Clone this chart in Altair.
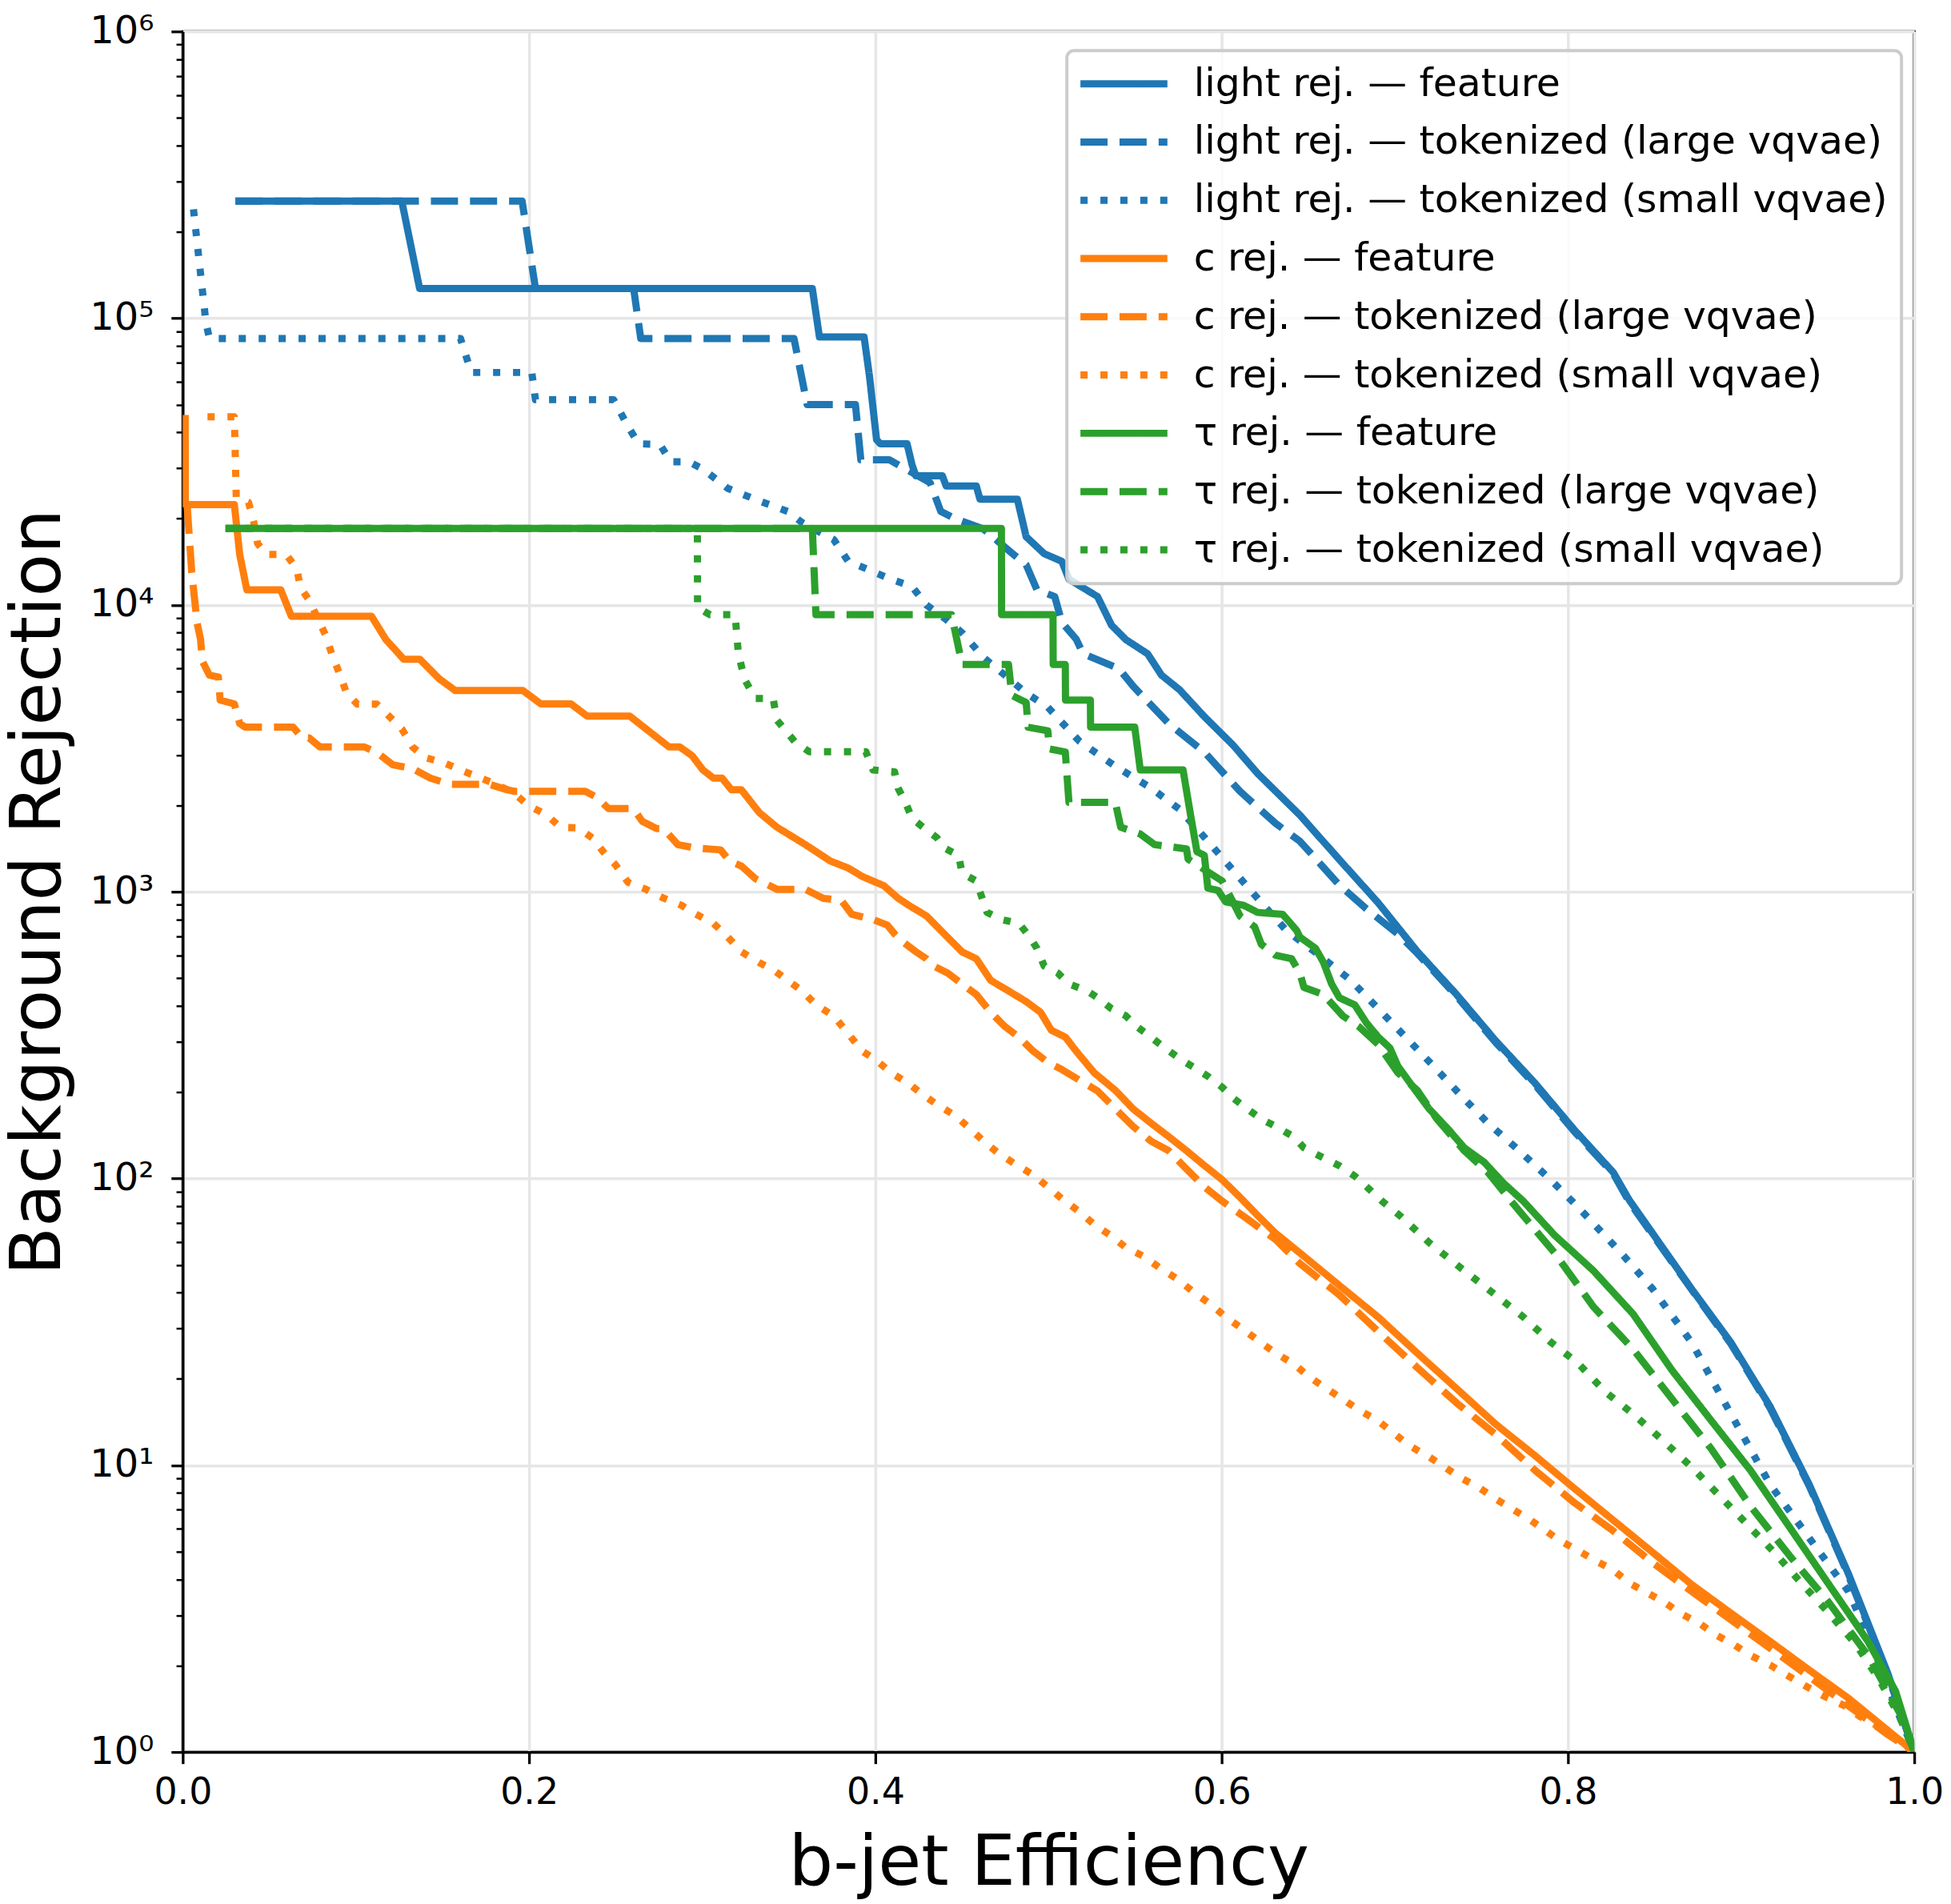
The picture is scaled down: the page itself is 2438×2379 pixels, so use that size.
import altair as alt
import pandas as pd

LABELS = [
    "light rej. — feature",
    "light rej. — tokenized (large vqvae)",
    "light rej. — tokenized (small vqvae)",
    "c rej. — feature",
    "c rej. — tokenized (large vqvae)",
    "c rej. — tokenized (small vqvae)",
    "τ rej. — feature",
    "τ rej. — tokenized (large vqvae)",
    "τ rej. — tokenized (small vqvae)",
]
COLORS = ["#1f77b4", "#1f77b4", "#1f77b4", "#ff7f0e", "#ff7f0e", "#ff7f0e",
          "#2ca02c", "#2ca02c", "#2ca02c"]
DASHES = [[1, 0], [34, 15], [9, 16]] * 3

light_feature = [
    [0.0304, 2.56e5], [0.1265, 2.56e5], [0.1368, 1.27e5], [0.3636, 1.27e5], [0.3677, 8.6e4],
    [0.3935, 8.6e4], [0.3966, 6.28e4], [0.4007, 3.77e4], [0.4028, 3.65e4], [0.4183, 3.65e4],
    [0.4212, 3.08e4], [0.4234, 2.82e4], [0.4387, 2.82e4], [0.4409, 2.6e4], [0.4583, 2.6e4],
    [0.4604, 2.34e4], [0.482, 2.34e4], [0.4871, 1.73e4], [0.4975, 1.51e4], [0.5077, 1.42e4],
    [0.5118, 1.23e4], [0.5283, 1.07e4], [0.5364, 8.5e3], [0.5447, 7.57e3], [0.5572, 6.76e3],
    [0.5653, 5.69e3], [0.5756, 5.07e3], [0.59, 4.08e3], [0.6065, 3.25e3], [0.6209, 2.58e3],
    [0.6452, 1.85e3], [0.6677, 1.3e3], [0.690, 921], [0.713, 619], [0.7357, 438],
    [0.7583, 302], [0.781, 215], [0.8036, 148], [0.8262, 105], [0.8353, 84.3],
    [0.8714, 41.2], [0.8941, 26.8], [0.9168, 16.0], [0.9394, 8.55], [0.962, 4.18],
    [0.9847, 1.88], [1.0, 1.0],
]
light_large = [
    [0.0304, 2.56e5], [0.196, 2.56e5], [0.2037, 1.27e5], [0.2604, 1.27e5], [0.2645, 8.5e4],
    [0.353, 8.5e4], [0.3606, 5.0e4], [0.3885, 5.0e4], [0.3916, 3.21e4], [0.408, 3.21e4],
    [0.4316, 2.67e4], [0.4378, 2.12e4], [0.446, 2.0e4], [0.4625, 1.84e4], [0.4748, 1.59e4],
    [0.4871, 1.38e4], [0.4933, 1.13e4], [0.5036, 1.07e4], [0.5077, 8.7e3], [0.516, 7.6e3],
    [0.52, 6.76e3], [0.5406, 6.0e3], [0.549, 5.2e3], [0.5694, 3.86e3], [0.59, 3.07e3],
    [0.6106, 2.24e3], [0.6312, 1.73e3], [0.6452, 1.5e3], [0.6677, 1.06e3], [0.6836, 871],
    [0.7017, 713], [0.713, 610], [0.7357, 432], [0.7583, 298], [0.781, 212],
    [0.8036, 146], [0.8262, 104], [0.8353, 83], [0.8714, 41], [0.8941, 26.5],
    [0.9168, 15.8], [0.9394, 8.45], [0.962, 4.12], [0.9847, 1.86], [1.0, 1.0],
]
light_small = [
    [0.0062, 2.4e5], [0.0134, 9.66e4], [0.0154, 8.5e4], [0.1604, 8.5e4], [0.1666, 6.47e4],
    [0.2016, 6.47e4], [0.2037, 5.2e4], [0.2488, 5.2e4], [0.2571, 4.2e4], [0.2633, 3.65e4],
    [0.2756, 3.63e4], [0.2818, 3.16e4], [0.2922, 3.16e4], [0.3004, 2.98e4], [0.3148, 2.55e4],
    [0.3327, 2.31e4], [0.3493, 2.12e4], [0.3576, 1.94e4], [0.376, 1.69e4], [0.3843, 1.42e4],
    [0.3945, 1.34e4], [0.409, 1.23e4], [0.4212, 1.16e4], [0.4295, 1.0e4], [0.4399, 9.0e3],
    [0.4501, 8.0e3], [0.4625, 6.56e3], [0.4748, 5.69e3], [0.4871, 4.93e3], [0.4996, 4.4e3],
    [0.518, 3.34e3], [0.5386, 2.74e3], [0.5592, 2.3e3], [0.5756, 1.94e3], [0.59, 1.55e3],
    [0.6065, 1.19e3], [0.619, 975], [0.6373, 733], [0.6565, 600], [0.6746, 491],
    [0.6904, 391], [0.7063, 311], [0.7222, 247], [0.7378, 196], [0.7538, 156],
    [0.7719, 125], [0.79, 99], [0.8058, 79.5], [0.8307, 55], [0.8489, 41.2],
    [0.8714, 26.8], [0.8941, 15.1], [0.9168, 8.56], [0.9394, 5.57], [0.962, 3.63],
    [0.9757, 2.36], [0.9915, 1.33], [1.0, 1.0],
]
c_feature = [
    [0.0014, 4.6e4], [0.0015, 2.24e4], [0.0298, 2.24e4], [0.0329, 1.5e4], [0.037, 1.13e4],
    [0.0566, 1.13e4], [0.0627, 9.14e3], [0.109, 9.14e3], [0.1173, 7.58e3], [0.1276, 6.47e3],
    [0.1369, 6.47e3], [0.1481, 5.53e3], [0.1574, 5.03e3], [0.1965, 5.03e3], [0.2068, 4.52e3],
    [0.2242, 4.52e3], [0.2335, 4.1e3], [0.2581, 4.1e3], [0.2675, 3.7e3], [0.2808, 3.2e3],
    [0.287, 3.2e3], [0.2942, 2.98e3], [0.3004, 2.66e3], [0.3065, 2.49e3], [0.3115, 2.49e3],
    [0.3168, 2.27e3], [0.3226, 2.27e3], [0.3329, 1.89e3], [0.3431, 1.68e3], [0.3596, 1.46e3],
    [0.374, 1.28e3], [0.3843, 1.21e3], [0.3925, 1.13e3], [0.4049, 1.05e3], [0.4131, 950],
    [0.4193, 897], [0.4296, 823], [0.4378, 733], [0.444, 672], [0.4501, 617],
    [0.4583, 584], [0.4666, 491], [0.4769, 451], [0.4871, 414], [0.4954, 380],
    [0.5016, 329], [0.5098, 311], [0.516, 278], [0.5263, 234], [0.5386, 203],
    [0.5488, 175], [0.5592, 156], [0.5694, 140], [0.5797, 125], [0.59, 111],
    [0.6003, 99], [0.6106, 86], [0.6208, 74.3], [0.6312, 64.4], [0.6452, 55],
    [0.6677, 42.5], [0.6903, 32.9], [0.713, 24.6], [0.7357, 18.5], [0.7583, 13.9],
    [0.781, 10.8], [0.8036, 8.31], [0.8262, 6.43], [0.8489, 4.97], [0.8714, 3.84],
    [0.8941, 3.05], [0.9168, 2.43], [0.9394, 1.93], [0.962, 1.54], [0.9847, 1.19], [1.0, 1.0],
]
c_large = [
    [0.0026, 2.2e4], [0.0052, 1.3e4], [0.0072, 1.0e4], [0.0082, 8.7e3], [0.0103, 7.58e3],
    [0.0113, 6.38e3], [0.0154, 5.69e3], [0.0206, 5.61e3], [0.0216, 4.66e3], [0.0298, 4.52e3],
    [0.0329, 3.86e3], [0.036, 3.75e3], [0.0638, 3.75e3], [0.0689, 3.44e3], [0.073, 3.44e3],
    [0.0792, 3.2e3], [0.1049, 3.2e3], [0.1121, 3.06e3], [0.1214, 2.77e3], [0.1327, 2.69e3],
    [0.143, 2.49e3], [0.1543, 2.37e3], [0.177, 2.37e3], [0.1871, 2.27e3], [0.1912, 2.24e3],
    [0.2325, 2.24e3], [0.2387, 2.14e3], [0.2459, 1.95e3], [0.2602, 1.95e3], [0.2654, 1.76e3],
    [0.2736, 1.66e3], [0.2777, 1.66e3], [0.2859, 1.46e3], [0.2962, 1.42e3], [0.3106, 1.4e3],
    [0.3158, 1.28e3], [0.3226, 1.23e3], [0.3308, 1.11e3], [0.3431, 1.02e3], [0.3596, 1.02e3],
    [0.3699, 948], [0.3802, 935], [0.3864, 834], [0.3986, 800], [0.4069, 765],
    [0.4111, 713], [0.4152, 673], [0.4234, 618], [0.4295, 584], [0.4336, 551],
    [0.4419, 520], [0.4501, 477], [0.4583, 438], [0.4666, 380], [0.4748, 339],
    [0.4829, 311], [0.4912, 278], [0.4996, 254], [0.5077, 240], [0.518, 220],
    [0.5283, 202], [0.5386, 175], [0.5488, 152], [0.5592, 135], [0.5694, 125],
    [0.5797, 108], [0.59, 93.5], [0.6003, 83.4], [0.6148, 72.3], [0.6312, 61.2],
    [0.6452, 50.5], [0.6677, 39.4], [0.6903, 29.3], [0.713, 21.9], [0.7357, 16.5],
    [0.7583, 12.8], [0.781, 9.6], [0.8036, 7.41], [0.8262, 5.9], [0.8489, 4.57],
    [0.8714, 3.63], [0.8941, 2.89], [0.9168, 2.3], [0.9394, 1.83], [0.962, 1.45],
    [0.9847, 1.15], [1.0, 1.0],
]
c_small = [
    [0.0143, 4.53e4], [0.0298, 4.53e4], [0.0309, 2.38e4], [0.038, 2.28e4], [0.041, 1.95e4],
    [0.0432, 1.64e4], [0.0483, 1.5e4], [0.0597, 1.5e4], [0.0659, 1.34e4], [0.0679, 1.15e4],
    [0.073, 1.04e4], [0.0823, 7.9e3], [0.0864, 6.67e3], [0.0905, 5.77e3], [0.0946, 4.93e3],
    [0.1008, 4.51e3], [0.1121, 4.51e3], [0.1194, 4.08e3], [0.1265, 3.7e3], [0.1327, 3.2e3],
    [0.1399, 2.94e3], [0.1512, 2.81e3], [0.1604, 2.66e3], [0.1707, 2.51e3], [0.1811, 2.37e3],
    [0.1912, 2.21e3], [0.1995, 2.0e3], [0.2099, 1.86e3], [0.218, 1.68e3], [0.2283, 1.67e3],
    [0.2366, 1.54e3], [0.2428, 1.38e3], [0.25, 1.24e3], [0.2571, 1.08e3], [0.2675, 1.02e3],
    [0.2777, 950], [0.288, 897], [0.2962, 836], [0.3065, 776], [0.3148, 695],
    [0.3226, 618], [0.3329, 566], [0.341, 535], [0.3493, 491], [0.3576, 452],
    [0.3658, 403], [0.376, 369], [0.3843, 320], [0.3925, 278], [0.4007, 258],
    [0.409, 234], [0.4193, 214], [0.4275, 196], [0.4357, 181], [0.446, 166],
    [0.4542, 150], [0.4625, 135], [0.4707, 123], [0.481, 112], [0.4912, 103],
    [0.4996, 93.5], [0.5077, 85], [0.518, 76.5], [0.5263, 69.2], [0.5364, 63],
    [0.5447, 57.4], [0.555, 53.5], [0.5653, 48.3], [0.5747, 44.5], [0.5839, 40.1],
    [0.594, 36.3], [0.6023, 32.9], [0.6127, 29.7], [0.6208, 27.3], [0.6312, 24.6],
    [0.6415, 22.6], [0.6498, 20.5], [0.6588, 18.8], [0.67, 17.0], [0.6791, 15.6],
    [0.6903, 14.3], [0.6995, 12.9], [0.7085, 11.7], [0.7198, 10.7], [0.7288, 9.86],
    [0.7378, 9.06], [0.7493, 8.31], [0.7583, 7.63], [0.7685, 7.0], [0.7787, 6.42],
    [0.7945, 5.5], [0.8058, 5.04], [0.8147, 4.69], [0.8262, 4.31], [0.8353, 3.89],
    [0.8442, 3.63], [0.8557, 3.33], [0.8647, 3.05], [0.876, 2.81], [0.885, 2.57],
    [0.8963, 2.36], [0.9055, 2.17], [0.9168, 2.01], [0.9281, 1.83], [0.9371, 1.7],
    [0.9484, 1.56], [0.9598, 1.45], [0.9687, 1.33], [0.9802, 1.22], [0.9915, 1.09], [1.0, 1.0],
]
tau_feature = [
    [0.0247, 1.85e4], [0.4728, 1.85e4], [0.4729, 9.25e3], [0.5026, 9.25e3], [0.5027, 6.2e3],
    [0.5097, 6.2e3], [0.5098, 4.66e3], [0.5242, 4.66e3], [0.5243, 3.75e3], [0.5498, 3.75e3],
    [0.553, 2.66e3], [0.5777, 2.66e3], [0.5818, 1.89e3], [0.5857, 1.38e3], [0.59, 1.34e3],
    [0.592, 1.03e3], [0.598, 1.01e3], [0.6023, 922], [0.6127, 897], [0.6208, 847],
    [0.6353, 834], [0.6433, 733], [0.6452, 695], [0.6542, 635], [0.6588, 567],
    [0.6635, 477], [0.668, 427], [0.6769, 403], [0.6836, 349], [0.6903, 312],
    [0.6972, 285], [0.7017, 247], [0.7106, 208], [0.7198, 175], [0.7311, 148],
    [0.7401, 128], [0.7516, 114], [0.7629, 96.2], [0.7742, 83.4], [0.7923, 63.4],
    [0.8147, 47.7], [0.8376, 33.7], [0.8602, 21.4], [0.8828, 14.3], [0.9054, 9.6],
    [0.9281, 6.07], [0.9507, 3.84], [0.9733, 2.43], [0.9892, 1.63], [1.0, 1.0],
]
tau_large = [
    [0.0247, 1.85e4], [0.3636, 1.85e4], [0.3657, 9.25e3], [0.444, 9.25e3], [0.4501, 6.2e3],
    [0.4769, 6.2e3], [0.4788, 4.84e3], [0.4871, 4.57e3], [0.4882, 3.75e3], [0.4996, 3.64e3],
    [0.5005, 3.15e3], [0.5097, 3.07e3], [0.5118, 2.05e3], [0.5386, 2.05e3], [0.5417, 1.68e3],
    [0.553, 1.59e3], [0.5613, 1.46e3], [0.5797, 1.41e3], [0.5806, 1.3e3], [0.6003, 1.09e3],
    [0.6065, 922], [0.6106, 823], [0.619, 755], [0.6229, 656], [0.6312, 600],
    [0.6404, 584], [0.6452, 520], [0.6475, 464], [0.6588, 438], [0.67, 369],
    [0.6791, 339], [0.6903, 294], [0.7017, 234], [0.713, 203], [0.7244, 161],
    [0.7401, 125], [0.7538, 105], [0.7673, 83.2], [0.781, 66.3], [0.7923, 55],
    [0.8147, 35.7], [0.8376, 25.4], [0.8602, 17.0], [0.8828, 11.4], [0.9054, 7.2],
    [0.9281, 4.83], [0.9507, 3.32], [0.9733, 2.17], [0.9915, 1.37], [1.0, 1.0],
]
tau_small = [
    [0.0247, 1.85e4], [0.2972, 1.85e4], [0.2973, 9.8e3], [0.3045, 9.25e3], [0.319, 9.25e3],
    [0.3209, 6.76e3], [0.3245, 5.5e3], [0.3308, 4.72e3], [0.341, 4.72e3], [0.3431, 3.97e3],
    [0.3534, 3.34e3], [0.3617, 3.08e3], [0.3945, 3.08e3], [0.3986, 2.66e3], [0.4111, 2.62e3],
    [0.4131, 2.3e3], [0.4172, 2.06e3], [0.4213, 1.8e3], [0.4275, 1.68e3], [0.4357, 1.54e3],
    [0.4399, 1.42e3], [0.4481, 1.34e3], [0.4501, 1.16e3], [0.4583, 1.09e3], [0.4645, 847],
    [0.4728, 800], [0.4829, 776], [0.4892, 695], [0.4933, 635], [0.4975, 551],
    [0.5055, 520], [0.5118, 477], [0.5221, 452], [0.5283, 427], [0.5364, 391],
    [0.5447, 369], [0.5509, 339], [0.5592, 311], [0.5673, 285], [0.5756, 262],
    [0.5839, 244], [0.5922, 227], [0.6003, 208], [0.6065, 191], [0.6148, 175],
    [0.623, 161], [0.6312, 152], [0.6415, 140], [0.6475, 128], [0.6588, 118],
    [0.6677, 111], [0.6769, 102], [0.6859, 91], [0.6926, 83.4], [0.704, 73.3],
    [0.7198, 59.8], [0.7378, 48.9], [0.7562, 40.1], [0.7742, 32.9], [0.79, 26.9],
    [0.8058, 22.7], [0.8217, 18.0], [0.8376, 15.1], [0.8535, 12.4], [0.8714, 9.86],
    [0.8873, 7.85], [0.9032, 6.25], [0.9191, 4.97], [0.9347, 3.89], [0.9507, 3.05],
    [0.9666, 2.36], [0.9802, 1.77], [0.9915, 1.33], [1.0, 1.0],
]

SERIES = [light_feature, light_large, light_small, c_feature, c_large, c_small,
          tau_feature, tau_large, tau_small]

X_TICKS = [0.0, 0.2, 0.4, 0.6, 0.8, 1.0]
Y_MAJOR = [1, 10, 100, 1000, 10000, 100000, 1000000]
Y_ALL = sorted(Y_MAJOR + [m * 10 ** e for e in range(0, 6) for m in range(2, 10)])

rows = []
for lab, pts in zip(LABELS, SERIES):
    for i, (x, y) in enumerate(pts):
        rows.append({"x": x, "y": y, "label": lab, "i": i})
df = pd.DataFrame(rows)

FONT = "DejaVu Sans"
IS_MAJOR = "abs(log(datum.value)/LN10 - round(log(datum.value)/LN10)) < 0.001"

x_axis = alt.Axis(
    values=X_TICKS, labelExpr="format(datum.value, '.1f')", title="b-jet Efficiency",
    titleFontSize=88, titleFont=FONT, titleFontWeight="normal", titleColor="black",
    titlePadding=22, labelFontSize=46, labelFont=FONT, labelColor="black",
    labelPadding=14, labelFlush=False, labelOverlap=False,
    tickSize=14.6, tickWidth=3.3, tickColor="black",
    domainColor="black", domainWidth=3.3,
    grid=True, gridColor="#e6e6e6", gridWidth=3.5,
)
y_axis = alt.Axis(
    values=Y_ALL,
    labelExpr="(" + IS_MAJOR + ") ? '10' + ['⁰','¹','²','³','⁴','⁵','⁶'][round(log(datum.value)/LN10)] : ''",
    title="Background Rejection",
    titleFontSize=88, titleFont=FONT, titleFontWeight="normal", titleColor="black",
    titlePadding=19, labelFontSize=48, labelFont=FONT, labelColor="black",
    labelPadding=22, labelFlush=False, labelOverlap=False,
    tickSize={"condition": {"test": IS_MAJOR, "value": 14.6}, "value": 8.3},
    tickWidth={"condition": {"test": IS_MAJOR, "value": 3.3}, "value": 2.5},
    tickColor="black",
    domainColor="black", domainWidth=3.3,
    grid=True, gridColor="#e6e6e6", gridWidth=3.5,
    gridOpacity={"condition": {"test": IS_MAJOR, "value": 1}, "value": 0},
)

# horizontal line symbol, 3x the unit half-width so the stored symbol size stays small
legend = alt.Legend(
    title=None, orient="none", legendX=1108, legendY=24, direction="vertical",
    symbolType="M-3,0H3", symbolSize=1320, symbolStrokeWidth=9, symbolOffset=30,
    labelFontSize=49, labelFont=FONT, labelColor="black", labelLimit=3000,
    labelOffset=63, rowPadding=23, padding=17,
    fillColor="rgba(255,255,255,0.8)", strokeColor="#cccccc",
)

layers = []
for lab in LABELS:
    layers.append(
        alt.Chart(df)
        .transform_filter(alt.datum.label == lab)
        .mark_line(strokeWidth=9, clip=True, strokeJoin="round")
        .encode(
            x=alt.X("x:Q", scale=alt.Scale(domain=[0, 1], nice=False, zero=False), axis=x_axis),
            y=alt.Y("y:Q", scale=alt.Scale(type="log", domain=[1, 1e6], nice=False), axis=y_axis),
            color=alt.Color("label:N", scale=alt.Scale(domain=LABELS, range=COLORS), legend=legend),
            strokeDash=alt.StrokeDash("label:N", scale=alt.Scale(domain=LABELS, range=DASHES), legend=legend),
            order=alt.Order("i:Q"),
        )
    )

chart = (
    alt.layer(*layers)
    .properties(
        width=2170, height=2156,
        autosize=alt.AutoSizeParams(type="none"),
        padding={"left": 221, "top": 28, "right": 38, "bottom": 185},
        background="white",
    )
    .configure_view(stroke="black", strokeWidth=3.3)
    .configure_legend(strokeWidth=4, cornerRadius=9)
)

chart.save("out.html", embed_options={"renderer": "svg", "actions": False})
